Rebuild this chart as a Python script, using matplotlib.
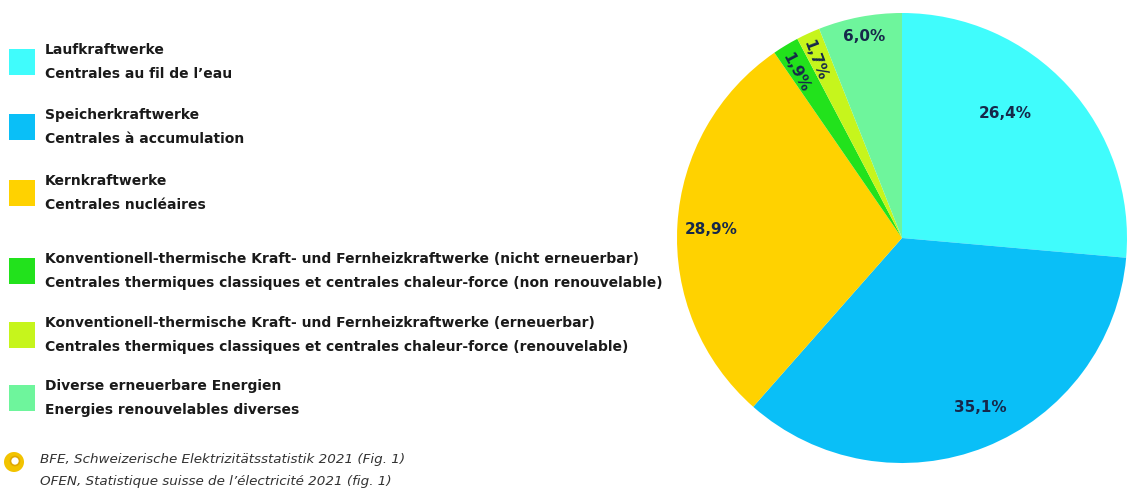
import numpy as np
import matplotlib.pyplot as plt
from matplotlib.patches import Rectangle, Ellipse

plt.rcParams['font.family'] = ['Liberation Sans Narrow', 'DejaVu Sans']

# Anteile an der Elektrizitätsproduktion (%)
shares = [26.4, 35.1, 28.9, 1.9, 1.7, 6.0]
share_labels = ["26,4%", "35,1%", "28,9%", "1,9%", "1,7%", "6,0%"]
colors = ["#40fcfc", "#0abff7", "#ffd200", "#22e21c", "#c6f51c", "#6ef59c"]

legend_de = [
    "Laufkraftwerke",
    "Speicherkraftwerke",
    "Kernkraftwerke",
    "Konventionell-thermische Kraft- und Fernheizkraftwerke (nicht erneuerbar)",
    "Konventionell-thermische Kraft- und Fernheizkraftwerke (erneuerbar)",
    "Diverse erneuerbare Energien",
]
legend_fr = [
    "Centrales au fil de l\u2019eau",
    "Centrales à accumulation",
    "Centrales nucléaires",
    "Centrales thermiques classiques et centrales chaleur-force (non renouvelable)",
    "Centrales thermiques classiques et centrales chaleur-force (renouvelable)",
    "Energies renouvelables diverses",
]
source_lines = [
    "BFE, Schweizerische Elektrizitätsstatistik 2021 (Fig. 1)",
    "OFEN, Statistique suisse de l\u2019électricité 2021 (fig. 1)",
]

W, H = 1127, 495
fig = plt.figure(figsize=(W / 100, H / 100), dpi=100)
fig.patch.set_facecolor("white")

# Kuchen: Mittelpunkt (902, 238) px, Radius 225 px
cx, cy, r = 902, 238, 225
ax = fig.add_axes([(cx - r) / W, (H - cy - r) / H, 2 * r / W, 2 * r / H])
wedges, _ = ax.pie(shares, colors=colors, startangle=90, counterclock=False,
                   wedgeprops=dict(linewidth=0))
ax.set_xlim(-1, 1)
ax.set_ylim(-1, 1)
ax.set_aspect("equal")
ax.axis("off")

# Beschriftungen: Radius-Faktor, Winkelkorrektur, gedreht?
label_style = [(0.72, 8, False), (0.83, 3, False), (0.85, 1, False),
               (0.875, 1.5, True), (0.88, 1.3, True), (0.91, 0, False)]
for w, txt, (rf, dth, rot) in zip(wedges, share_labels, label_style):
    mid = (w.theta1 + w.theta2) / 2 + dth
    x = rf * np.cos(np.radians(mid))
    y = rf * np.sin(np.radians(mid))
    ax.text(x, y, txt, ha="center", va="center", fontsize=11, fontweight="bold",
            color="#16284a", rotation=(mid - 185) if rot else 0,
            rotation_mode="anchor")

# Legende links
ys = [62, 127, 193, 271, 335, 398]
for y, c, de, fr in zip(ys, colors, legend_de, legend_fr):
    fig.patches.append(Rectangle((9 / W, (H - y - 13) / H), 26 / W, 26 / H,
                                 transform=fig.transFigure, facecolor=c,
                                 edgecolor="none"))
    fig.text(45 / W, (H - y + 12) / H, de, fontsize=10, fontweight="bold",
             color="#1a1a1a", va="center")
    fig.text(45 / W, (H - y - 12) / H, fr, fontsize=10, fontweight="bold",
             color="#1a1a1a", va="center")

# Quellenangabe mit Symbol
fig.patches.append(Ellipse((14 / W, (H - 462) / H), 20 / W, 20 / H,
                           transform=fig.transFigure, facecolor="#f2c300",
                           edgecolor="none"))
fig.patches.append(Ellipse((15 / W, (H - 461) / H), 9 / W, 9 / H,
                           transform=fig.transFigure, facecolor="white",
                           edgecolor="#e0a800", linewidth=1.2))
fig.text(40 / W, (H - 460) / H, source_lines[0], fontsize=9.7, style="italic",
         color="#333333", va="center")
fig.text(40 / W, (H - 482) / H, source_lines[1], fontsize=9.7, style="italic",
         color="#333333", va="center")

fig.savefig("out.png", dpi=100)
